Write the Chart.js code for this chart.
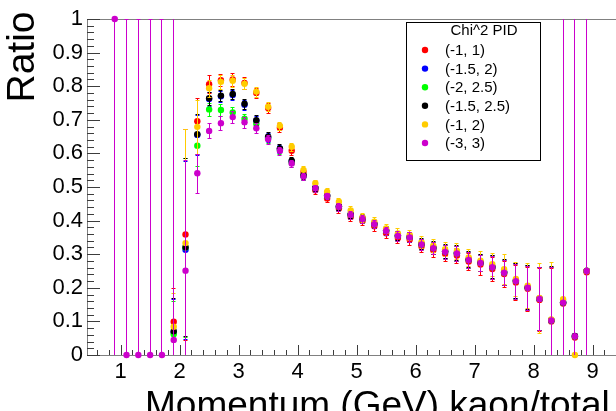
<!DOCTYPE html>
<html>
<head>
<meta charset="utf-8">
<script src="https://cdn.jsdelivr.net/npm/chart.js@4/dist/chart.umd.min.js"></script>
<style>
  html, body { margin: 0; padding: 0; background: #fff; overflow: hidden; }
  #plot { display: block; }
</style>
</head>
<body>
<canvas id="plot" width="660" height="411" style="width:660px;height:411px"></canvas>
<script>
/* Kaon ratio vs momentum for several Chi^2 PID windows (ROOT-style TGraphErrors look) */

// bin centres (GeV)
const momentum = [0.9, 1.1, 1.3, 1.5, 1.7, 1.9, 2.1, 2.3, 2.5, 2.7, 2.9, 3.1, 3.3, 3.5, 3.7, 3.9,
  4.1, 4.3, 4.5, 4.7, 4.9, 5.1, 5.3, 5.5, 5.7, 5.9, 6.1, 6.3, 6.5, 6.7, 6.9, 7.1, 7.3, 7.5, 7.7,
  7.9, 8.1, 8.3, 8.5, 8.7, 8.9];

const seriesNames = ['(-1, 1)', '(-1.5, 2)', '(-2, 2.5)', '(-1.5, 2.5)', '(-1, 2)', '(-3, 3)'];
const seriesColors = ['#ff0000', '#0000ff', '#00ff00', '#000000', '#ffcc00', '#cc00cc'];

const ratioRed = [null, null, null, null, null, 0.099, 0.359, 0.696, 0.806, 0.818, 0.820, 0.810, 0.780,
  0.735, 0.676, 0.608, 0.545, 0.490, 0.466, 0.436, 0.411, 0.399, 0.383, 0.362, 0.348, 0.344, 0.323,
  0.312, 0.301, 0.296, 0.278, 0.269, 0.256, 0.241, 0.216, 0.197, 0.164, 0.100, 0.153, 0.052, 0.246];
const ratioBlue = [null, null, null, null, null, 0.068, 0.313, 0.655, 0.762, 0.770, 0.774, 0.745, 0.697,
  0.648, 0.613, 0.576, 0.533, 0.497, 0.474, 0.442, 0.418, 0.406, 0.390, 0.370, 0.355, 0.351, 0.330,
  0.319, 0.308, 0.303, 0.284, 0.275, 0.262, 0.246, 0.221, 0.201, 0.167, 0.103, 0.156, 0.056, 0.250];
const ratioGreen = [null, null, null, null, null, 0.062, 0.320, 0.623, 0.731, 0.729, 0.722, 0.703, 0.688,
  0.645, 0.610, 0.572, 0.532, 0.496, 0.473, 0.441, 0.417, 0.405, 0.389, 0.369, 0.354, 0.350, 0.329,
  0.318, 0.307, 0.302, 0.283, 0.274, 0.261, 0.245, 0.220, 0.200, 0.167, 0.103, 0.156, 0.056, 0.250];
const ratioBlack = [null, null, null, null, null, 0.071, 0.321, 0.657, 0.764, 0.772, 0.777, 0.748, 0.699,
  0.650, 0.615, 0.578, 0.535, 0.498, 0.475, 0.443, 0.419, 0.407, 0.391, 0.371, 0.356, 0.352, 0.331,
  0.320, 0.309, 0.304, 0.285, 0.276, 0.263, 0.247, 0.222, 0.202, 0.168, 0.104, 0.157, 0.057, 0.251];
const ratioYellow = [null, null, null, null, null, 0.084, 0.333, 0.679, 0.794, 0.813, 0.816, 0.807, 0.784,
  0.739, 0.682, 0.620, 0.551, 0.511, 0.486, 0.456, 0.430, 0.410, 0.397, 0.377, 0.362, 0.357, 0.336,
  0.325, 0.315, 0.310, 0.290, 0.281, 0.270, 0.255, 0.226, 0.206, 0.170, 0.106, 0.166, 0, 0.250];
const ratioMagenta = [1.0, 0, 0, 0, 0, 0.045, 0.251, 0.541, 0.667, 0.690, 0.708, 0.693, 0.675,
  0.642, 0.608, 0.570, 0.531, 0.496, 0.473, 0.441, 0.417, 0.405, 0.389, 0.369, 0.354, 0.350, 0.329,
  0.318, 0.307, 0.302, 0.283, 0.274, 0.261, 0.245, 0.220, 0.200, 0.167, 0.103, 0.156, 0.056, 0.250];

// statistical errors (symmetric)
const errRed = [null, null, null, null, null, 0.10, 0.314, 0.07, 0.026, 0.018, 0.018, 0.017, 0.016,
  0.014, 0.013, 0.012, 0.012, 0.011, 0.011, 0.012, 0.012, 0.013, 0.013, 0.014, 0.015, 0.016, 0.017,
  0.019, 0.021, 0.023, 0.025, 0.030, 0.035, 0.038, 0.052, 0.066, 0.094, 0.160, 1, 1, 1];
const errWide = [null, null, null, null, null, 0.10, 0.265, 0.06, 0.020, 0.017, 0.016, 0.015, 0.014,
  0.013, 0.012, 0.011, 0.011, 0.010, 0.010, 0.011, 0.011, 0.012, 0.012, 0.013, 0.014, 0.015, 0.016,
  0.018, 0.020, 0.022, 0.024, 0.025, 0.035, 0.038, 0.052, 0.066, 0.094, 0.160, 1, 1, 1];
const errYellow = [null, null, null, null, null, 0.10, 0.34, 0.08, 0.025, 0.020, 0.018, 0.016, 0.015,
  0.013, 0.012, 0.012, 0.011, 0.011, 0.011, 0.012, 0.012, 0.013, 0.013, 0.014, 0.015, 0.016, 0.017,
  0.019, 0.021, 0.023, 0.025, 0.030, 0.035, 0.045, 0.050, 0.067, 0.105, 0.170, 1, 0, 1];
const errMagenta = [1, 1, 1, 1, 1, 1, 0.33, 0.058, 0.022, 0.020, 0.018, 0.016, 0.015,
  0.013, 0.012, 0.011, 0.011, 0.010, 0.010, 0.011, 0.011, 0.012, 0.012, 0.013, 0.014, 0.015, 0.016,
  0.018, 0.020, 0.022, 0.024, 0.025, 0.035, 0.038, 0.052, 0.066, 0.094, 0.160, 1, 1, 1];

const xTickValues = [1, 2, 3, 4, 5, 6, 7, 8, 9];
const xTickLabels = ['1', '2', '3', '4', '5', '6', '7', '8', '9'];
const yTickValues = [0, 0.1, 0.2, 0.3, 0.4, 0.5, 0.6, 0.7, 0.8, 0.9, 1];
const yTickLabels = ['0', '0.1', '0.2', '0.3', '0.4', '0.5', '0.6', '0.7', '0.8', '0.9', '1'];

const legendTitle = 'Chi^2 PID';
const xTitle = 'Momentum (GeV) kaon/total';
const yTitle = 'Ratio';

const ratios = [ratioRed, ratioBlue, ratioGreen, ratioBlack, ratioYellow, ratioMagenta];
const errors = [errRed, errWide, errWide, errWide, errYellow, errMagenta];

const FONT = '"Liberation Sans", Arial, Helvetica, sans-serif';

// builds {x, y} points and matching errors, skipping empty bins
function buildDataset(i) {
  const data = [], errs = [];
  momentum.forEach((p, k) => {
    if (ratios[i][k] === null) return;
    data.push({ x: p, y: ratios[i][k] });
    errs.push(errors[i][k]);
  });
  return {
    label: seriesNames[i],
    data,
    errs,
    backgroundColor: seriesColors[i],
    borderColor: seriesColors[i],
    pointRadius: 3.2,
    pointBorderWidth: 0,
    showLine: false,
    clip: false,
    order: seriesNames.length - i   // last series ends up on top
  };
}

// vertical error bars with small caps, drawn right before each series' markers
const errorBars = {
  id: 'errorBars',
  beforeDatasetDraw(chart, args) {
    const ds = chart.data.datasets[args.index];
    const { ctx, chartArea: a } = chart;
    const y = chart.scales.y;
    ctx.save();
    ctx.beginPath();
    ctx.rect(a.left, a.top, a.right - a.left, a.bottom - a.top);
    ctx.clip();
    ctx.strokeStyle = ds.borderColor;
    ctx.lineWidth = 1;
    args.meta.data.forEach((pt, k) => {
      const e = ds.errs[k];
      if (!e) return;
      const v = ds.data[k].y;
      const px = Math.round(pt.x - 0.5) + 0.5;
      const top = Math.round(y.getPixelForValue(v + e)) + 0.5;
      const bot = Math.round(y.getPixelForValue(v - e)) + 0.5;
      ctx.beginPath();
      ctx.moveTo(px, top); ctx.lineTo(px, bot);
      ctx.moveTo(px - 2, top); ctx.lineTo(px + 2, top);
      ctx.moveTo(px - 2, bot); ctx.lineTo(px + 2, bot);
      ctx.stroke();
    });
    ctx.restore();
  }
};

// frame + inward ticks, ROOT style
const rootFrame = {
  id: 'rootFrame',
  beforeDatasetsDraw(chart) {
    const { ctx, chartArea: a, scales: { x, y } } = chart;
    ctx.save();
    ctx.strokeStyle = '#808080';
    ctx.lineWidth = 1;
    ctx.strokeRect(Math.round(a.left) + 0.5, Math.round(a.top) + 0.5,
      Math.round(a.right - a.left), Math.round(a.bottom - a.top));

    ctx.strokeStyle = '#3c3c3c';
    ctx.beginPath();
    // x: major every 1, minor every 0.2
    const first = Math.ceil(x.min * 5) / 5;
    for (let k = 0; first + k * 0.2 <= x.max; k++) {
      const v = first + k * 0.2;
      const px = Math.round(x.getPixelForValue(v)) + 0.5;
      const major = Math.abs(v - Math.round(v)) < 1e-6;
      ctx.moveTo(px, a.bottom);
      ctx.lineTo(px, a.bottom - (major ? 10 : 5));
    }
    // y: major every 0.1, minor every 0.02
    for (let k = 0; k <= 50; k++) {
      const py = Math.round(y.getPixelForValue(k * 0.02)) + 0.5;
      const major = k % 5 === 0;
      ctx.moveTo(a.left, py);
      ctx.lineTo(a.left + (major ? 13 : 7), py);
    }
    ctx.stroke();
    ctx.restore();
  }
};

// boxed legend in the upper right and the two axis titles
const rootText = {
  id: 'rootText',
  afterDraw(chart) {
    const { ctx } = chart;
    ctx.save();
    ctx.fillStyle = '#000';

    // legend box
    ctx.strokeStyle = '#000';
    ctx.lineWidth = 1;
    ctx.strokeRect(406.5, 22.5, 134, 138);
    ctx.font = '15px ' + FONT;
    ctx.textBaseline = 'middle';
    ctx.textAlign = 'center';
    ctx.fillText(legendTitle, 484, 31);
    ctx.textAlign = 'left';
    chart.data.datasets.forEach((ds, i) => {
      const cy = 50 + i * 18.6;
      ctx.fillStyle = ds.backgroundColor;
      ctx.beginPath();
      ctx.arc(425, cy, 3.2, 0, Math.PI * 2);
      ctx.fill();
      ctx.fillStyle = '#000';
      ctx.fillText(ds.label, 445, cy + 1);
    });

    // axis titles
    ctx.textBaseline = 'alphabetic';
    ctx.font = '37px ' + FONT;
    ctx.fillText(xTitle, 145, 417);
    ctx.translate(34, 57);
    ctx.rotate(-Math.PI / 2);
    ctx.textAlign = 'center';
    ctx.font = '39px ' + FONT;
    ctx.fillText(yTitle, 0, 0);
    ctx.restore();
  }
};

new Chart(document.getElementById('plot'), {
  type: 'scatter',
  data: { datasets: seriesNames.map((_, i) => buildDataset(i)) },
  plugins: [errorBars, rootFrame, rootText],
  options: {
    responsive: false,
    animation: false,
    devicePixelRatio: 1,
    layout: { padding: { top: 19, right: 8.4, bottom: 0, left: 0 } },
    plugins: { legend: { display: false }, tooltip: { enabled: false } },
    scales: {
      x: {
        type: 'linear',
        min: 0.43,
        max: 10,
        grid: { display: false, drawTicks: false },
        border: { display: false },
        afterBuildTicks: (s) => { s.ticks = xTickValues.map(v => ({ value: v })); },
        afterFit: (s) => { s.height = 56; },
        ticks: {
          color: '#000',
          font: { family: FONT, size: 22 },
          padding: 4,
          maxRotation: 0,
          autoSkip: false,
          callback: (v, i) => xTickLabels[i]
        }
      },
      y: {
        type: 'linear',
        min: 0,
        max: 1,
        grid: { display: false, drawTicks: false },
        border: { display: false },
        afterBuildTicks: (s) => { s.ticks = yTickValues.map(v => ({ value: v })); },
        afterFit: (s) => { s.width = 87; },
        ticks: {
          color: '#000',
          font: { family: FONT, size: 22 },
          padding: 4,
          autoSkip: false,
          callback: (v, i) => yTickLabels[i]
        }
      }
    }
  }
});
</script>
</body>
</html>
